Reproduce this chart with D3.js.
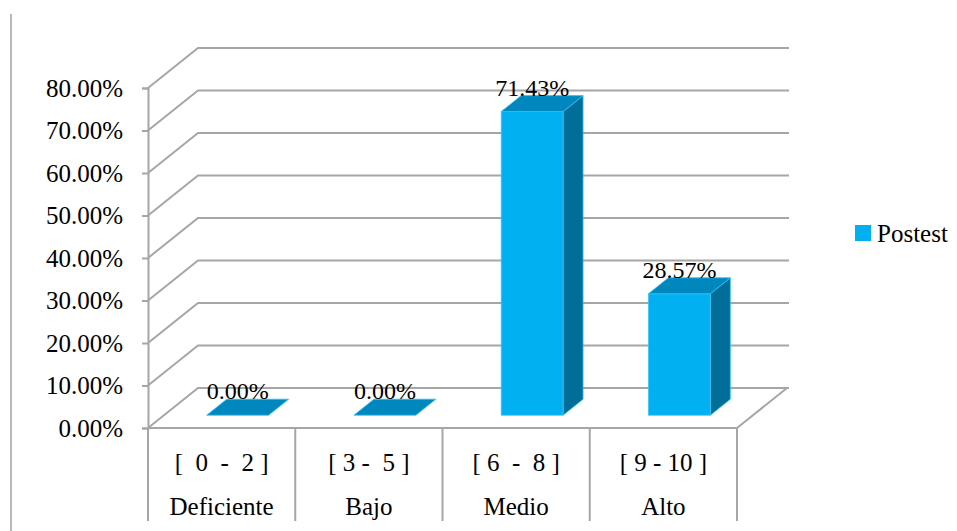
<!DOCTYPE html>
<html>
<head>
<meta charset="utf-8">
<script src="https://cdn.jsdelivr.net/npm/d3@7"></script>
<style>
  body { margin: 0; background: #fff; }
  svg text { font-family: "Liberation Serif", "Times New Roman", serif !important; fill: #000; }
</style>
</head>
<body>
<div id="chart"></div>
<script>
// chart data
const ranges = ['[  0  -  2 ]', '[ 3 -  5 ]', '[ 6  -  8 ]', '[ 9 - 10 ]'];
const levels = ['Deficiente', 'Bajo', 'Medio', 'Alto'];
const postest = [0, 0, 0.7143, 0.2857];
const yTicks = [0, 0.1, 0.2, 0.3, 0.4, 0.5, 0.6, 0.7, 0.8];
const seriesName = 'Postest';

const width = 957, height = 531;
const fontSize = 25;

// 3d offset of the back wall
const depth = { dx: 50, dy: -40 };
const barFront = 0.32, barBack = 0.72;

const svg = d3.select('#chart').append('svg')
  .attr('width', width)
  .attr('height', height);

// left border of the picture
svg.append('line')
  .attr('x1', 11).attr('x2', 11)
  .attr('y1', 14).attr('y2', height)
  .attr('stroke', '#a0a0a0').attr('stroke-width', 1.5);

const x = d3.scaleBand()
  .domain(d3.range(ranges.length))
  .range([148, 737])
  .padding(0);

const y = d3.scaleLinear()
  .domain([0, 0.8])
  .range([428, 88]);

const x0 = x.range()[0], x1 = x.range()[1];
const grid = svg.append('g').attr('stroke', '#a6a6a6').attr('stroke-width', 2).attr('fill', 'none');

// gridlines on side and back wall
yTicks.forEach(t => {
  grid.append('path')
    .attr('d', `M${x0},${y(t)}L${x0 + depth.dx},${y(t) + depth.dy}L${x1 + depth.dx + 2},${y(t) + depth.dy}`);
});
// floor right edge
grid.append('path')
  .attr('d', `M${x1},${y(0)}L${x1 + depth.dx},${y(0) + depth.dy}`);

// y axis
svg.append('g')
  .attr('transform', `translate(${x0},0)`)
  .call(d3.axisLeft(y).tickValues(yTicks).tickSize(6).tickPadding(19)
    .tickFormat(d => (d * 100).toFixed(2) + '%'))
  .call(g => g.attr('font-family', null).attr('font-size', fontSize))
  .call(g => g.selectAll('.domain').attr('stroke', '#a6a6a6').attr('stroke-width', 2))
  .call(g => g.selectAll('.tick line').attr('stroke', '#a6a6a6').attr('stroke-width', 2))
  .call(g => g.selectAll('.tick text').attr('fill', '#000'));

// front floor edge + category dividers
grid.append('line')
  .attr('x1', x0).attr('x2', x1).attr('y1', y(0)).attr('y2', y(0));
d3.range(ranges.length + 1).forEach(i => {
  const xx = i < ranges.length ? x(i) : x1;
  grid.append('line')
    .attr('x1', xx).attr('x2', xx)
    .attr('y1', y(0)).attr('y2', 521);
});

// category labels (two rows)
const cats = svg.append('g');
cats.selectAll('.range')
  .data(ranges)
  .join('text')
  .attr('class', 'range')
  .style('white-space', 'pre')
  .attr('x', (d, i) => x(i) + x.bandwidth() / 2)
  .attr('y', 471)
  .attr('text-anchor', 'middle')
  .style('font-size', fontSize + 'px')
  .text(d => d);
cats.selectAll('.level')
  .data(levels)
  .join('text')
  .attr('class', 'level')
  .attr('x', (d, i) => x(i) + x.bandwidth() / 2)
  .attr('y', 515)
  .attr('text-anchor', 'middle')
  .style('font-size', fontSize + 'px')
  .text(d => d);

// 3d bars
const barW = x.bandwidth() * 0.42;
const front = { dx: depth.dx * barFront, dy: depth.dy * barFront };
const back = { dx: depth.dx * barBack, dy: depth.dy * barBack };
const bars = svg.append('g');

postest.forEach((v, i) => {
  const cx = x(i) + x.bandwidth() / 2;
  const l = cx - barW / 2 + front.dx, r = cx + barW / 2 + front.dx;
  const top = y(v) + front.dy, bot = y(0) + front.dy;
  const ddx = back.dx - front.dx, ddy = back.dy - front.dy;
  const g = bars.append('g');
  if (v > 0) {
    // side face
    g.append('path')
      .attr('d', `M${r},${top}L${r + ddx},${top + ddy}L${r + ddx},${bot + ddy}L${r},${bot}Z`)
      .attr('fill', '#006e99').attr('stroke', '#30c0f0').attr('stroke-width', 0.8);
    // front face
    g.append('rect')
      .attr('x', l).attr('y', top)
      .attr('width', r - l).attr('height', bot - top)
      .attr('fill', '#00b0f0').attr('stroke', '#40c4f4').attr('stroke-width', 0.8);
  }
  // top face
  g.append('path')
    .attr('d', `M${l},${top}L${l + ddx},${top + ddy}L${r + ddx},${top + ddy}L${r},${top}Z`)
    .attr('fill', '#0087bd').attr('stroke', '#30bff2').attr('stroke-width', 0.8);
  // value label
  g.append('text')
    .attr('x', cx + front.dx)
    .attr('y', top + ddy)
    .attr('text-anchor', 'middle')
    .style('font-size', (fontSize - 1) + 'px')
    .text((v * 100).toFixed(2) + '%');
});

// legend
const legend = svg.append('g').attr('transform', 'translate(855,225)');
legend.append('rect')
  .attr('width', 16).attr('height', 16)
  .attr('fill', '#00b0f0');
legend.append('text')
  .attr('x', 22).attr('y', 17)
  .style('font-size', fontSize + 'px')
  .text(seriesName);
</script>
</body>
</html>
